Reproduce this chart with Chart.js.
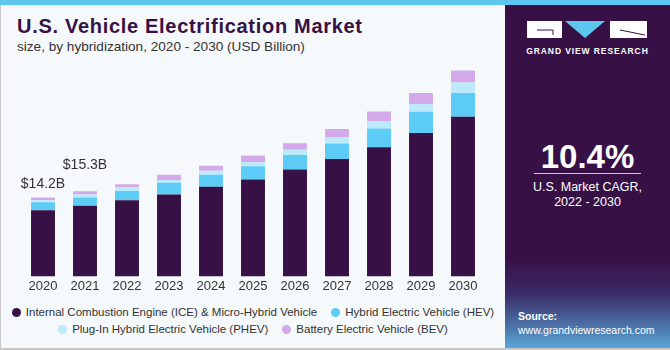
<!DOCTYPE html>
<html>
<head>
<meta charset="utf-8">
<script src="https://cdn.jsdelivr.net/npm/chart.js"></script>
<style>
    html, body { margin: 0; padding: 0; }
    body { width: 670px; height: 350px; background: #f5f9fc; font-family: "Liberation Sans", Arial, sans-serif; position: relative; overflow: hidden; }
    #stripe { position: absolute; left: 0; top: 0; width: 670px; height: 5px; background: #5cc6ee; }
    #frame { position: absolute; left: 0; top: 5px; border-left: 1px solid #c8c8c8; border-bottom: 2px solid #c8c8c8; box-sizing: border-box; width: 670px; height: 345px; }
    #title { position: absolute; left: 17px; top: 15px; font-size: 20px; font-weight: bold; color: #371146; letter-spacing: 0.7px; }
    #subtitle { position: absolute; left: 17px; top: 39px; font-size: 13.6px; color: #333; }
    #chart-box { position: absolute; left: 0; top: 0; width: 500px; height: 300px; }
    #legend { position: absolute; left: 0; top: 304px; width: 506px; font-size: 11.5px; color: #333; text-align: center; line-height: 17px; }
    #legend .row { white-space: nowrap; }
    #legend .item { display: inline-block; margin: 0 7px; white-space: nowrap; }
    #legend .dot { display: inline-block; width: 9px; height: 9px; border-radius: 50%; margin-right: 5px; vertical-align: -1px; }
    #panel { position: absolute; left: 505px; top: 5px; width: 165px; height: 343px;
        background: linear-gradient(to bottom, #371146 0%, #371146 74%, #3b2a66 84%, #4a6ea4 93%, #5aa6d6 100%); color: #fff; text-align: center; }
    #brand { position: absolute; left: 0; top: 41px; width: 165px; font-size: 8.5px; font-weight: bold; letter-spacing: 0.9px; }
    #cagr { position: absolute; left: 0; top: 133px; width: 165px; font-size: 33px; font-weight: bold; }
    #cagr-line { position: absolute; left: 29px; top: 168px; width: 107px; height: 1px; background: #cfc6d8; }
    #cagr-text { position: absolute; left: 0; top: 175px; width: 165px; font-size: 12.5px; line-height: 15px; }
    #source { position: absolute; left: 13px; top: 304px; font-size: 10.5px; text-align: left; line-height: 14px; }
</style>
</head>
<body>
<div id="stripe"></div>
<div id="frame"></div>
<div id="title">U.S. Vehicle Electrification Market</div>
<div id="subtitle">size, by hybridization, 2020 - 2030 (USD Billion)</div>
<div id="chart-box"><canvas id="chart"></canvas></div>
<div id="legend"></div>
<div id="panel">
    <svg style="position:absolute;left:22px;top:16px" width="122" height="18" viewBox="0 0 122 18">
        <rect x="0" y="0" width="35" height="17" fill="#fff"/>
        <polyline points="10,9 26,9 26,14" fill="none" stroke="#371146" stroke-width="1"/>
        <polygon points="38,0 78,0 58,17" fill="#5cc6ee"/>
        <rect x="83" y="0" width="37" height="17" fill="#fff"/>
        <line x1="93" y1="9" x2="118" y2="14" stroke="#371146" stroke-width="1"/>
    </svg>
    <div id="brand">GRAND VIEW RESEARCH</div>
    <div id="cagr">10.4%</div>
    <div id="cagr-line"></div>
    <div id="cagr-text">U.S. Market CAGR,<br>2022 - 2030</div>
    <div id="source"><b>Source:</b><br>www.grandviewresearch.com</div>
</div>
<script>
const years = ["2020", "2021", "2022", "2023", "2024", "2025", "2026", "2027", "2028", "2029", "2030"];
const iceValues  = [11.9, 12.7, 13.7, 14.7, 16.1, 17.4, 19.2, 21.1, 23.2, 25.8, 28.7];
const hevValues  = [1.43, 1.48, 1.66, 2.14, 2.19, 2.42, 2.62, 2.79, 3.38, 3.79, 4.27];
const phevValues = [0.36, 0.53, 0.66, 0.48, 0.71, 0.71, 0.94, 1.19, 1.37, 1.42, 1.90];
const bevValues  = [0.48, 0.60, 0.53, 0.94, 0.89, 1.19, 1.19, 1.42, 1.71, 1.96, 2.14];
const seriesNames = [
    "Internal Combustion Engine (ICE) & Micro-Hybrid Vehicle",
    "Hybrid Electric Vehicle (HEV)",
    "Plug-In Hybrid Electric Vehicle (PHEV)",
    "Battery Electric Vehicle (BEV)"
];
const seriesColors = ["#371146", "#5ccbf6", "#bdeafa", "#d4a9ea"];
const callouts = [
    { index: 0, text: "$14.2B", lift: 10 },
    { index: 1, text: "$15.3B", lift: 22 }
];

// legend in two rows, like the original
const legend = document.getElementById("legend");
let row;
seriesNames.forEach((name, i) => {
    if (i % 2 === 0) {
        row = document.createElement("div");
        row.className = "row";
        legend.appendChild(row);
    }
    const item = document.createElement("span");
    item.className = "item";
    item.innerHTML = `<span class="dot" style="background:${seriesColors[i]}"></span>${name}`;
    row.appendChild(item);
});

const calloutPlugin = {
    id: "callouts",
    afterDatasetsDraw(chart) {
        const ctx = chart.ctx;
        const x = chart.scales.x, y = chart.scales.y;
        ctx.save();
        ctx.font = "14px 'Liberation Sans', Arial, sans-serif";
        ctx.fillStyle = "#333";
        ctx.textAlign = "center";
        ctx.textBaseline = "alphabetic";
        callouts.forEach(c => {
            const total = iceValues[c.index] + hevValues[c.index] + phevValues[c.index] + bevValues[c.index];
            ctx.fillText(c.text, x.getPixelForValue(c.index), y.getPixelForValue(total) - c.lift);
        });
        ctx.restore();
    }
};

const allValues = [iceValues, hevValues, phevValues, bevValues];
new Chart(document.getElementById("chart"), {
    type: "bar",
    data: {
        labels: years,
        datasets: allValues.map((vals, i) => ({
            label: seriesNames[i],
            data: vals,
            backgroundColor: seriesColors[i],
            categoryPercentage: 1,
            barPercentage: 0.57
        }))
    },
    options: {
        responsive: true,
        maintainAspectRatio: false,
        animation: false,
        layout: { padding: { top: 60, left: 22, right: 16, bottom: 4 } },
        scales: {
            x: {
                stacked: true,
                grid: { display: false, drawTicks: false },
                border: { display: false },
                ticks: { color: "#333", font: { size: 13, family: "'Liberation Sans', Arial, sans-serif" }, padding: 2 }
            },
            y: { stacked: true, display: false, min: 0, max: 38.9 }
        },
        plugins: { legend: { display: false }, tooltip: { enabled: false } }
    },
    plugins: [calloutPlugin]
});
</script>
</body>
</html>
